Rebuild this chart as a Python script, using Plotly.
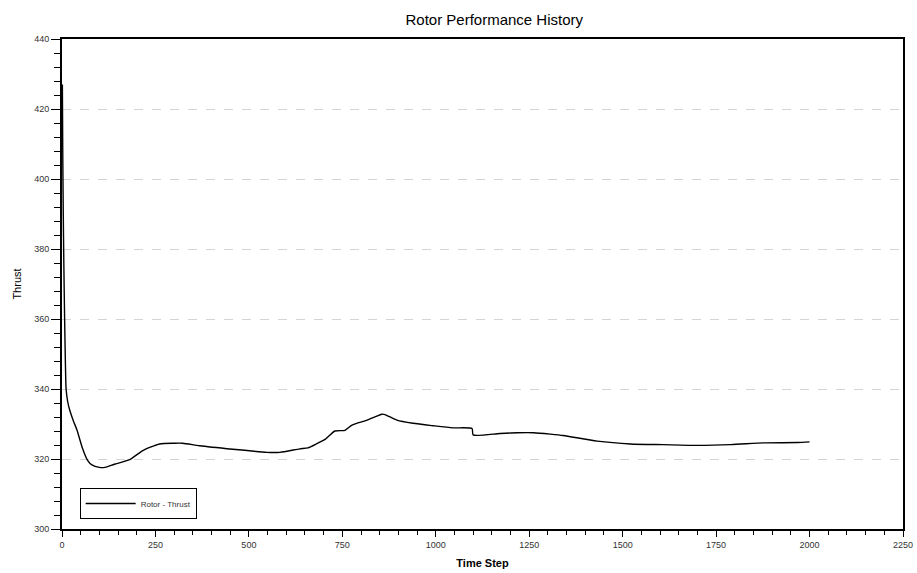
import plotly.graph_objects as go

time_step = [1, 2, 3, 4, 5, 7, 9, 11, 15, 20, 30, 40, 55, 68, 80, 100, 115, 140, 181, 216, 261,
             300, 323, 368, 457, 548, 583, 636, 658, 682, 704, 730, 757, 776, 816, 856, 864,
             896, 939, 993, 1046, 1097, 1100, 1172, 1218, 1262, 1306, 1341, 1432, 1521, 1609,
             1699, 1789, 1877, 1968, 2000]
thrust = [427.0, 408.0, 395.0, 384.0, 375.0, 360.0, 348.0, 340.0, 336.5, 334.2, 331.0, 328.3,
          323.0, 319.7, 318.3, 317.6, 317.6, 318.5, 319.8, 322.4, 324.3, 324.5, 324.5, 323.8,
          322.8, 321.9, 321.9, 322.9, 323.2, 324.4, 325.6, 328.0, 328.2, 329.7, 331.1, 332.8,
          332.7, 331.1, 330.2, 329.5, 328.9, 328.7, 326.9, 327.3, 327.5, 327.5, 327.1, 326.7,
          325.1, 324.3, 324.1, 323.9, 324.1, 324.6, 324.7, 324.9]

x_ticks = [0, 250, 500, 750, 1000, 1250, 1500, 1750, 2000, 2250]
y_ticks = [300, 320, 340, 360, 380, 400, 420, 440]

fig = go.Figure()
fig.add_trace(go.Scatter(
    x=time_step, y=thrust, mode="lines", name="Rotor - Thrust",
    line=dict(color="black", width=1.4, shape="spline", smoothing=0.6),
))

tick_font = dict(family="Arial, Liberation Sans, sans-serif", size=9, color="#333333")

fig.update_layout(
    width=917, height=573,
    margin=dict(l=62, r=14, t=39, b=44),
    paper_bgcolor="white", plot_bgcolor="white",
    title=dict(text="Rotor Performance History", x=0.539, xanchor="center", y=0.965,
               yanchor="middle",
               font=dict(family="Arial, Liberation Sans, sans-serif", size=15, color="black")),
    showlegend=True,
    legend=dict(x=0.021, y=0.052, xanchor="left", yanchor="middle",
                bordercolor="black", borderwidth=1, bgcolor="white",
                font=dict(family="Arial, Liberation Sans, sans-serif", size=8, color="#333333"),
                itemwidth=50, tracegroupgap=0),
    xaxis=dict(
        range=[0, 2250], tickvals=x_ticks, ticktext=[str(v) for v in x_ticks],
        showgrid=False, zeroline=False, automargin=False,
        showline=True, linecolor="black", linewidth=2, mirror=True,
        ticks="outside", ticklen=6, tickwidth=1, tickcolor="black",
        minor=dict(dtick=50, tick0=0, ticks="outside", ticklen=4, tickcolor="black", showgrid=False),
        tickfont=tick_font,
        title=dict(text="<b>Time Step</b>", standoff=11,
                   font=dict(family="Arial, Liberation Sans, sans-serif", size=11, color="black")),
    ),
    yaxis=dict(
        range=[300, 440], tickvals=y_ticks, ticktext=[str(v) for v in y_ticks],
        showgrid=True, gridcolor="#d4d4d4", griddash="dash", gridwidth=1,
        zeroline=False, automargin=False,
        showline=True, linecolor="black", linewidth=2, mirror=True,
        ticks="outside", ticklen=9, tickwidth=1, tickcolor="black",
        minor=dict(dtick=4, tick0=300, ticks="outside", ticklen=6, tickcolor="black", showgrid=False),
        tickfont=tick_font,
        title=dict(text="Thrust", standoff=10,
                   font=dict(family="Arial, Liberation Sans, sans-serif", size=11, color="black")),
    ),
)

fig.write_html("out.html")
